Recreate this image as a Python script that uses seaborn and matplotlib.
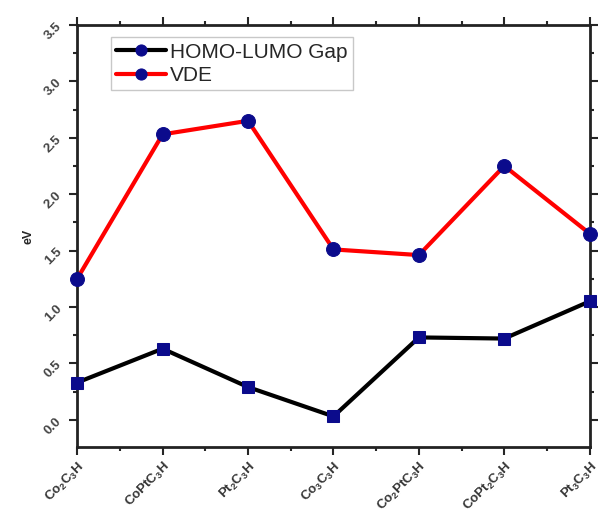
import numpy as np
import pandas as pd
import matplotlib
matplotlib.use("Agg")
import matplotlib.pyplot as plt
import seaborn as sns
from matplotlib.ticker import MultipleLocator

clusters = [r"$\mathbf{Co_2C_3H}$", r"$\mathbf{CoPtC_3H}$", r"$\mathbf{Pt_2C_3H}$",
            r"$\mathbf{Co_3C_3H}$", r"$\mathbf{Co_2PtC_3H}$", r"$\mathbf{CoPt_2C_3H}$",
            r"$\mathbf{Pt_3C_3H}$"]
gap = [0.33, 0.63, 0.29, 0.03, 0.73, 0.72, 1.05]
vde = [1.25, 2.53, 2.65, 1.51, 1.46, 2.25, 1.65]

sns.set_theme(style="ticks")
plt.rcParams['font.family'] = ['Liberation Sans', 'DejaVu Sans']
plt.rcParams['mathtext.fontset'] = 'custom'
plt.rcParams['mathtext.bf'] = 'Liberation Sans:bold'
plt.rcParams['mathtext.rm'] = 'Liberation Sans'

df = pd.DataFrame({'pos': np.arange(len(clusters)), 'gap': gap, 'vde': vde})

fig = plt.figure(figsize=(6.03, 5.19), dpi=100)
ax = fig.add_axes([0.128, 0.139, 0.850, 0.813])

sns.lineplot(data=df, x='pos', y='gap', ax=ax, color='black', linewidth=3,
             marker='s', markersize=9, markerfacecolor='#0b0b8c',
             markeredgecolor='#0b0b8c', label='HOMO-LUMO Gap', clip_on=False, zorder=3)
sns.lineplot(data=df, x='pos', y='vde', ax=ax, color='#ff0000', linewidth=3,
             marker='o', markersize=10, markerfacecolor='#0b0b8c',
             markeredgecolor='#0b0b8c', label='VDE', clip_on=False, zorder=3)

ax.set_xlim(0, len(clusters) - 1)
ax.set_ylim(-0.24, 3.5)
ax.set_xticks(df['pos'])
ax.set_xticklabels(clusters, rotation=45, ha='right', rotation_mode='anchor',
                   fontsize=9.5, color='#333333')
ax.xaxis.set_minor_locator(MultipleLocator(0.5))
ax.yaxis.set_major_locator(MultipleLocator(0.5))
ax.yaxis.set_minor_locator(MultipleLocator(0.25))
ax.yaxis.set_major_formatter(plt.FuncFormatter(lambda v, p: f"{v:.1f}"))
for t in ax.get_yticklabels():
    t.set_rotation(45)
    t.set_fontweight('bold')
    t.set_fontsize(9.5)
    t.set_color('#444444')
ax.tick_params(which='both', direction='in', top=True, right=True, width=1.5)
ax.tick_params(which='major', length=6)
ax.tick_params(which='minor', length=3)
ax.tick_params(axis='y', which='both', direction='out', left=True)
ax.tick_params(axis='x', which='both', direction='out', bottom=True)
ax.tick_params(axis='x', pad=3)
for s in ax.spines.values():
    s.set_linewidth(2)
    s.set_color('#222222')

ax.set_xlabel('')
ax.set_ylabel('eV', fontsize=9, fontweight='bold', labelpad=6)

leg = ax.legend(loc='upper left', bbox_to_anchor=(0.045, 0.995), fontsize=15,
                frameon=True, fancybox=False, edgecolor='#bbbbbb',
                handlelength=2.4, handletextpad=0.2, borderpad=0.25, labelspacing=0.2)
leg.get_frame().set_linewidth(1)
for h in leg.legend_handles:
    h.set_marker('o')
    h.set_markersize(8)

fig.savefig('out.png', dpi=100)
plt.close(fig)
